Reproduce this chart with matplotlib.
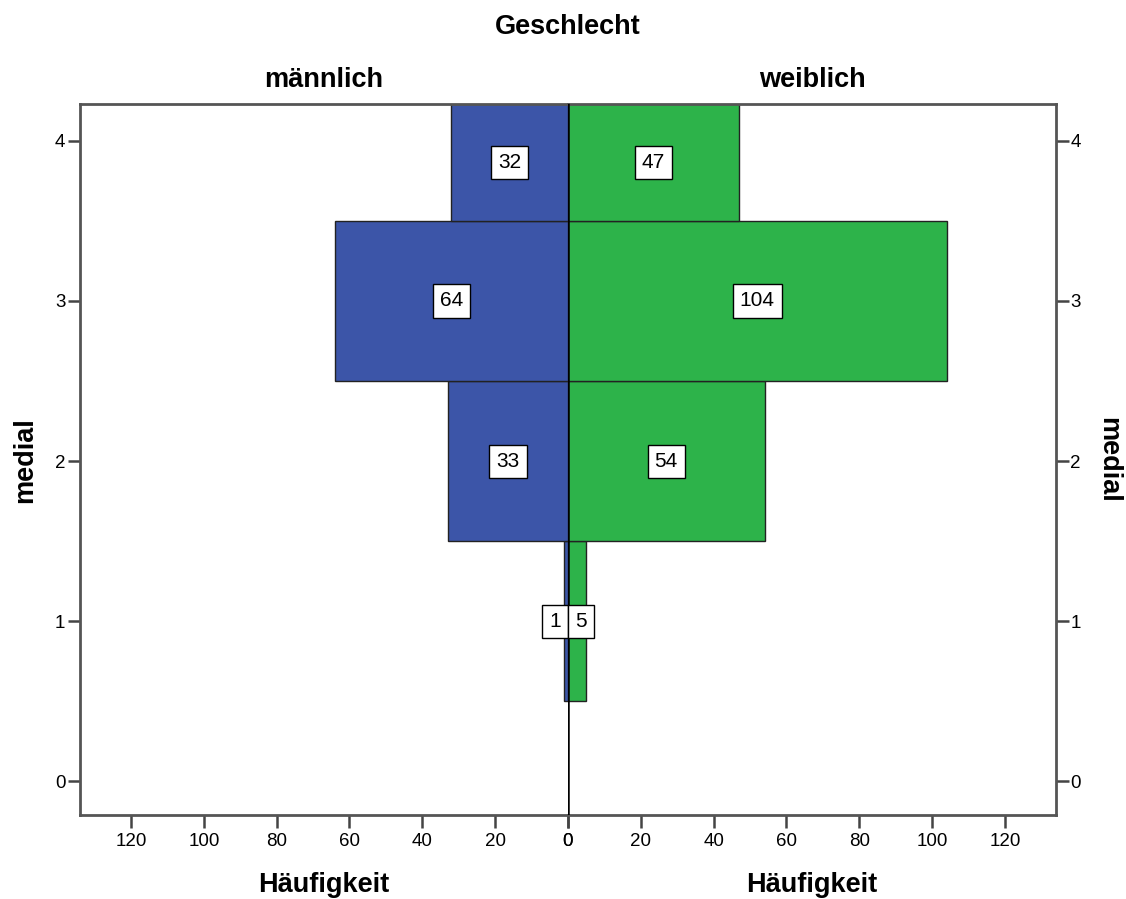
import matplotlib.pyplot as plt

plt.rcParams['font.family'] = ['Liberation Sans', 'DejaVu Sans']

# Daten: Häufigkeiten je Kategorie von "medial"
categories = [1, 2, 3, 4]
maennlich = [1, 33, 64, 32]
weiblich = [5, 54, 104, 47]

blue = '#3c55a8'
green = '#2db34a'
edge = '#222222'
xmax = 134
ylim = (-0.21, 4.23)
W, H = 1126, 899

fig = plt.figure(figsize=(11.26, 8.99), dpi=100)
ax_l = fig.add_axes([0.0711, 0.0934, 0.4333, 0.7909])
ax_r = fig.add_axes([0.5044, 0.0934, 0.4333, 0.7909])

box = dict(boxstyle='square,pad=0.34', fc='white', ec='black', lw=1.0)


def draw_side(ax, values, color, side):
    ax.barh(categories, values, height=1.0, color=color, edgecolor=edge, linewidth=1.0, zorder=2)
    for c, v in zip(categories, values):
        # Beschriftung in der Mitte des sichtbaren Balkenteils
        yc = (max(c - 0.5, ylim[0]) + min(c + 0.5, ylim[1])) / 2
        if v >= 12:
            ax.annotate(str(v), (v / 2, yc), ha='center', va='center', fontsize=15,
                        bbox=box, zorder=4)
        else:
            off = -5 if side == 'left' else 5
            ax.annotate(str(v), (0, yc), xytext=(off, 0), textcoords='offset points',
                        ha='right' if side == 'left' else 'left', va='center', fontsize=15,
                        bbox=box, zorder=4)
    ax.set_ylim(*ylim)
    ax.set_xticks(range(0, 121, 20))
    ax.set_yticks(range(0, 5))
    ax.tick_params(labelsize=13.5, length=9, width=1.8, color='#444444', pad=4)
    ax.tick_params(axis='y', pad=1.5)
    for s in ax.spines.values():
        s.set_color('#555555')
        s.set_linewidth(2)


draw_side(ax_l, maennlich, blue, 'left')
ax_l.set_xlim(xmax, 0)
ax_l.spines['right'].set_visible(False)

draw_side(ax_r, weiblich, green, 'right')
ax_r.set_xlim(0, xmax)
ax_r.spines['left'].set_visible(False)
ax_r.yaxis.tick_right()

# Mittellinie
ax_r.axvline(0, color='black', lw=1.8, zorder=3)

bold = dict(fontsize=19.5, fontweight='bold', ha='center', va='center')
fig.text(568 / W, 1 - 27 / H, 'Geschlecht', **bold)
fig.text(324 / W, 1 - 80 / H, 'männlich', **bold)
fig.text(812 / W, 1 - 80 / H, 'weiblich', **bold)
fig.text(324 / W, 1 - 885 / H, 'Häufigkeit', **bold)
fig.text(812 / W, 1 - 885 / H, 'Häufigkeit', **bold)
fig.text(25 / W, 1 - 460 / H, 'medial', rotation=90, **bold)
fig.text(1108 / W, 1 - 460 / H, 'medial', rotation=270, **bold)

fig.savefig('out.png', dpi=100)
